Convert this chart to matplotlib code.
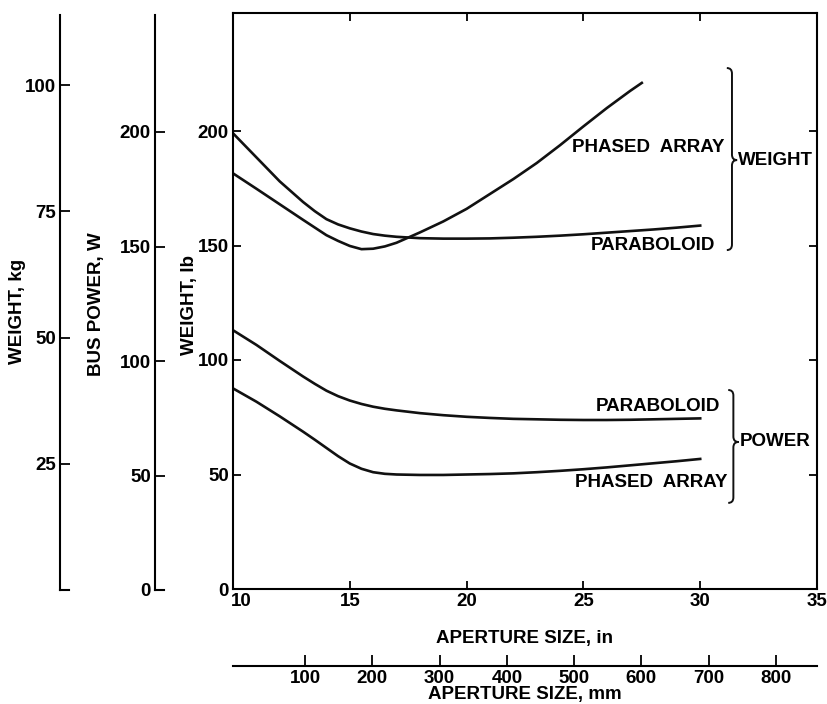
import numpy as np
import matplotlib
matplotlib.use('Agg')
import matplotlib.pyplot as plt
import matplotlib.transforms as mtransforms
from matplotlib.path import Path
from matplotlib.patches import PathPatch

# ---- data ----
aperture_in = [10, 11, 12, 13, 13.5, 14, 14.5, 15, 15.5, 16, 16.5, 17, 18, 19, 20,
               21, 22, 23, 24, 25, 26, 27, 28, 29, 30]
weight_paraboloid = [199, 188.5, 178, 169, 165, 161.5, 159.2, 157.5, 156.1, 155, 154.3, 153.8,
                     153.2, 153, 153, 153.1, 153.4, 153.8, 154.3, 154.9, 155.6, 156.3, 157,
                     157.8, 158.7]
power_paraboloid = [113, 106.6, 99.6, 92.8, 89.6, 86.6, 84.2, 82.3, 80.8, 79.6, 78.7, 78,
                    76.8, 75.9, 75.2, 74.7, 74.3, 74.1, 73.9, 73.8, 73.8, 73.9, 74.1,
                    74.3, 74.5]
power_phased = [87.6, 81.8, 75.4, 68.7, 65.2, 61.6, 58, 54.8, 52.5, 51, 50.3, 50,
                49.8, 49.8, 50, 50.2, 50.5, 51, 51.6, 52.3, 53.1, 54, 54.9,
                55.8, 56.8]

aperture_in_pa = [10, 11, 12, 13, 14, 14.5, 15, 15.5, 16, 16.5, 17, 18, 19, 20,
                  21, 22, 23, 24, 25, 26, 27, 27.5]
weight_phased = [181.5, 174.8, 168, 161.2, 154.5, 152, 149.8, 148.4, 148.6, 149.6, 151.2,
                 155.7, 160.5, 166, 172.5, 179, 186, 193.8, 202, 210, 217.5, 221]

lb_ticks = [0, 50, 100, 150, 200]
kg_ticks = [25, 50, 75, 100]
w_ticks = [0, 50, 100, 150, 200]
in_ticks = [10, 15, 20, 25, 30, 35]
mm_ticks = [100, 200, 300, 400, 500, 600, 700, 800]

LB_PER_KG = 2.2046

# ---- figure layout (pixel helpers) ----
W, H = 828, 704
def fx(px):
    return px / W
def fy(py):
    return 1 - py / H

matplotlib.rc('font', family='Liberation Sans', weight='bold', size=13.5)
matplotlib.rc('axes', linewidth=1.5, labelweight='bold')

fig = plt.figure(figsize=(8.28, 7.04), dpi=100)

ax = fig.add_axes([fx(233), fy(589), fx(817) - fx(233), fy(13) - fy(589)])
ax.set_xlim(10, 35)
ax.set_ylim(0, (589 - 13) / 2.29)
ax.set_xticks(in_ticks)
ax.set_yticks(lb_ticks)
ax.tick_params(direction='in', top=True, right=True, length=6, width=1.3, pad=3)
# the "10" sits a little right of the corner in the original
shift = mtransforms.ScaledTranslation(8 / 100, 0, fig.dpi_scale_trans)
first = ax.get_xticklabels()[0]
first.set_transform(first.get_transform() + shift)

lw = 1.9
ax.plot(aperture_in, weight_paraboloid, color='#111111', linewidth=lw)
ax.plot(aperture_in_pa, weight_phased, color='#111111', linewidth=lw)
ax.plot(aperture_in, power_paraboloid, color='#111111', linewidth=lw)
ax.plot(aperture_in, power_phased, color='#111111', linewidth=lw)

ax.set_xlabel('APERTURE SIZE, in', labelpad=14)

# curve labels
ax.text(31.06, 192.6, 'PHASED  ARRAY', ha='right', va='center')
ax.text(30.63, 150.2, 'PARABOLOID', ha='right', va='center')
ax.text(30.85, 79.5, 'PARABOLOID', ha='right', va='center')
ax.text(31.19, 46.3, 'PHASED  ARRAY', ha='right', va='center')


def brace(ax, x, y0, y1, ym, w=0.22, r=2.4):
    # right-facing curly brace between y0 (bottom) and y1 (top)
    verts = [(x - w, y1), (x, y1), (x, y1 - r),
             (x, ym + r), (x, ym), (x + w, ym),
             (x, ym), (x, ym - r),
             (x, y0 + r), (x, y0), (x - w, y0)]
    codes = [Path.MOVETO, Path.CURVE3, Path.CURVE3,
             Path.LINETO, Path.CURVE3, Path.CURVE3,
             Path.CURVE3, Path.CURVE3,
             Path.LINETO, Path.CURVE3, Path.CURVE3]
    ax.add_patch(PathPatch(Path(verts, codes), fill=False, lw=1.4,
                           color='#111111', clip_on=False))

brace(ax, 31.36, 148, 227.5, 187.3)
brace(ax, 31.42, 37.6, 86.9, 64.2)
ax.text(31.62, 187.3, 'WEIGHT', ha='left', va='center')
ax.text(31.68, 64.2, 'POWER', ha='left', va='center')

# ---- extra left axes: BUS POWER (W) and WEIGHT (kg) ----
ext_hi = (590 - 15) / 2.29

axw = fig.add_axes([fx(155), fy(590), fx(9), fy(15) - fy(590)])
axw.set_ylim(0, ext_hi)
axw.set_yticks(w_ticks)

axk = fig.add_axes([fx(60), fy(590), fx(9), fy(15) - fy(590)])
axk.set_ylim(0, ext_hi / LB_PER_KG)
axk.set_yticks(kg_ticks)

for a in (axw, axk):
    a.patch.set_visible(False)
    a.spines['top'].set_visible(False)
    a.spines['right'].set_visible(False)
    a.set_xticks([])
    a.tick_params(axis='y', direction='in', length=7, width=1.3, pad=3)

fig.text(fx(18), fy(311), 'WEIGHT, kg', rotation=90, ha='center', va='center')
fig.text(fx(97), fy(304), 'BUS POWER, W', rotation=90, ha='center', va='center')
fig.text(fx(190), fy(305), 'WEIGHT, lb', rotation=90, ha='center', va='center')

# ---- second x axis in mm ----
axm = fig.add_axes([fx(233), fy(666), fx(817) - fx(233), 0.001])
axm.patch.set_visible(False)
for s in ('top', 'left', 'right'):
    axm.spines[s].set_visible(False)
axm.set_yticks([])
axm.set_xlim(-7, 861)
axm.set_xticks(mm_ticks)
axm.tick_params(axis='x', direction='in', length=8, width=1.3, pad=3)
axm.set_xlabel('APERTURE SIZE, mm', labelpad=-1)

plt.savefig('out.png', dpi=100)
